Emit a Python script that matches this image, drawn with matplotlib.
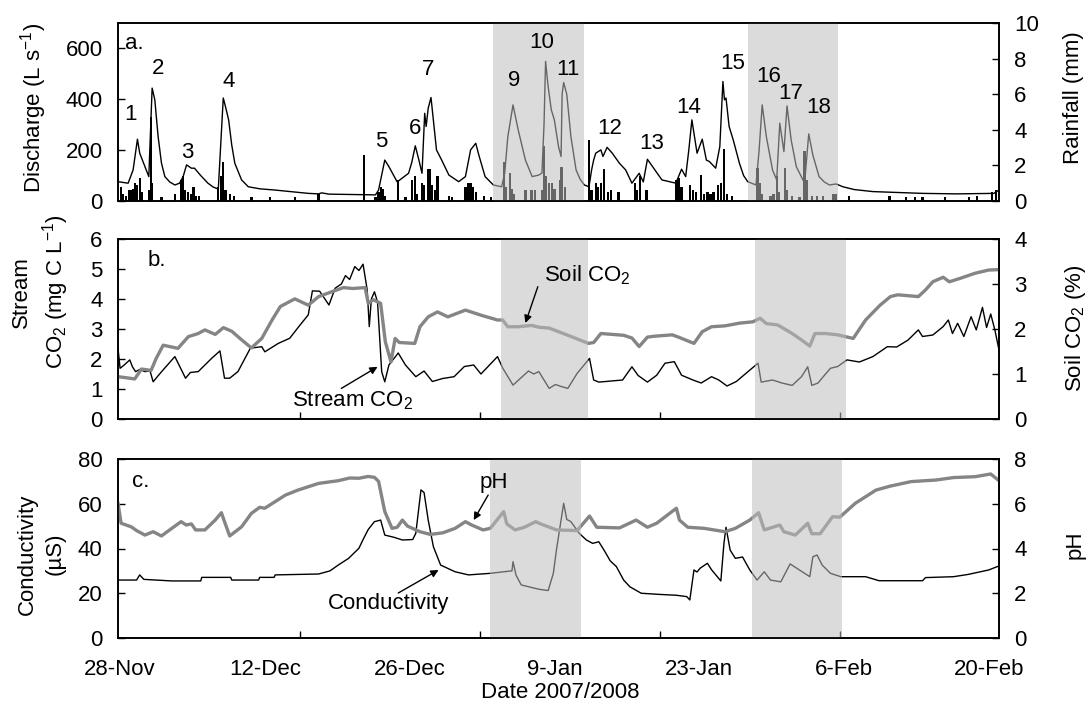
import numpy as np
import matplotlib
matplotlib.use('Agg')
import matplotlib.pyplot as plt

plt.rcParams['font.family'] = ['Liberation Sans', 'DejaVu Sans']
plt.rcParams['font.size'] = 16
plt.rcParams['mathtext.fontset'] = 'custom'
plt.rcParams['mathtext.rm'] = 'Liberation Sans'
plt.rcParams['mathtext.it'] = 'Liberation Sans:italic'

FS = 16

# days since 28-Nov-2007
date_ticks = [0, 14, 28, 42, 56, 70, 84]
date_labels = ['28-Nov', '12-Dec', '26-Dec', '9-Jan', '23-Jan', '6-Feb', '20-Feb']

# panel a: discharge (L/s)
q_day = [-0.2, 0.78, 1.26, 1.68, 1.9, 2.78, 3.1, 3.36, 3.68, 4.0, 4.33, 4.8, 5.3, 5.75, 6.1,
         6.43, 6.9, 7.2, 7.8, 8.5, 9.0, 9.5, 9.98, 10.2, 10.5, 10.8, 11.1, 11.75, 12.4, 13.5,
         15.0, 18.2, 19.2, 19.5, 20.2, 24.7, 25.0, 25.6, 26.0,
         26.8, 27.9, 28.2, 28.55, 28.9, 29.2, 29.46, 29.6, 29.8, 30.07, 30.3, 30.6, 31.1, 31.8,
         32.75, 33.4, 33.9, 34.4, 34.7, 35.3, 36.1, 36.9, 37.2, 37.5, 38.0, 38.5, 39.2, 39.85,
         40.5, 40.8, 41.0, 41.15, 41.4, 41.7, 42.0, 42.4, 42.65, 42.75, 42.9, 43.2, 43.6, 44.1,
         44.5, 44.9, 45.35, 45.6, 45.8, 46.0, 46.5, 46.7, 47.1, 47.6, 48.3, 48.9, 49.5, 50.2, 50.6,
         51.0, 51.5, 52.4, 53.75, 54.3, 54.7, 55.0, 55.3, 55.8, 56.3, 56.7, 57.0, 57.6, 58.0,
         58.3, 58.45, 58.6, 58.9, 59.3, 59.9, 60.3, 60.7, 61.5, 61.8, 62.1, 62.5, 63.1, 63.5, 63.8,
         64.2, 64.5, 64.9, 65.4, 66.2, 66.6, 67.0, 67.6, 68.1, 68.6, 69.25, 69.9, 71.0, 72.8,
         77.6, 80.9, 84.5, 85.0]
q_val = [76, 70, 122, 243, 188, 96, 444, 398, 253, 150, 96, 75, 63, 70, 96,
         142, 129, 129, 100, 70, 55, 47, 405, 370, 319, 220, 148, 83, 56, 48,
         43, 30, 28, 32, 27, 24, 43, 161, 135,
         75, 109, 150, 217, 161, 109, 345, 293, 365, 407, 319, 201, 161, 102,
         76, 96, 201, 227, 180, 96, 63, 56, 110, 253, 378, 280, 161, 96,
         102, 110, 300, 549, 450, 359, 319, 214, 175, 420, 466, 420, 253, 122,
         85, 63, 56, 122, 161, 188, 201, 175, 211, 188, 148, 122, 70, 109, 75,
         164, 135, 83, 70, 125, 96, 200, 319, 188, 243, 161, 155, 129, 214,
         470, 398, 405, 293, 240, 148, 100, 76, 63, 200, 378, 253, 122, 83, 306,
         194, 374, 240, 135, 70, 264, 180, 96, 75, 63, 67, 56, 45, 37,
         30, 28, 30, 43]

# panel a: rainfall (mm)
rain_day = [0.1, 0.3, 0.55, 0.9, 1.1, 1.3, 1.45, 1.6, 1.95, 2.1, 2.8, 2.97, 3.1, 4.0,
            5.3, 5.94, 6.1, 6.3, 6.55, 6.9, 7.1, 7.3, 7.6, 9.5, 9.75, 9.98, 10.2, 10.6, 11.0,
            12.7, 14.5, 16.9, 19.2, 23.6, 24.7, 25.0, 25.2, 25.4, 25.6, 26.9, 27.6,
            28.2, 28.5, 28.7, 29.2, 29.4, 29.8, 30.0, 30.2, 30.5, 30.7, 31.8, 32.1,
            33.4, 33.7, 33.9, 34.1, 34.4, 35.2, 35.9, 37.1, 37.3, 37.7, 37.9, 38.1,
            39.2, 39.8, 40.1, 40.8, 41.0, 41.2, 41.5, 41.8, 42.0, 42.6, 42.7, 43.0,
            45.35, 45.6, 46.0, 46.2, 46.5, 46.8, 47.2, 47.5, 48.2, 49.8, 50.0, 50.3, 50.9,
            53.75, 54.0, 54.3, 55.1, 55.4, 55.7, 56.2, 56.5, 56.8, 57.1, 57.4, 57.8, 58.1,
            58.4, 58.7, 59.2, 61.65, 61.9, 62.1, 62.9, 63.2, 63.5, 63.7, 64.3, 64.5, 65.0,
            65.7, 66.2, 66.4, 66.9, 67.4, 68.0, 69.0, 69.2, 70.5, 74.4, 76.0, 76.9, 77.6,
            79.8, 82.1, 82.9, 84.3, 84.7]
rain_mm = [0.8, 0.4, 0.3, 0.6, 0.6, 0.7, 1.0, 0.9, 1.3, 0.5, 0.6, 4.7, 1.0, 0.2,
           0.4, 1.2, 1.4, 0.6, 0.5, 0.4, 0.8, 0.3, 0.3, 0.8, 1.4, 2.2, 0.6, 0.4, 0.3,
           0.25, 0.25, 0.2, 0.4, 2.6, 0.2, 0.5, 0.8, 0.7, 0.3, 1.2, 0.2,
           1.2, 1.4, 0.4, 1.0, 0.9, 1.8, 1.8, 0.9, 0.6, 1.4, 0.3, 0.2,
           0.8, 1.0, 1.0, 0.8, 0.5, 0.3, 0.2, 2.2, 0.8, 1.6, 0.7, 0.4,
           0.6, 0.6, 0.6, 0.6, 3.1, 1.4, 1.0, 1.0, 0.7, 1.2, 1.9, 0.8,
           3.4, 0.6, 1.0, 0.8, 1.0, 1.8, 0.5, 0.6, 0.5, 1.0, 0.6, 1.4, 0.6,
           1.2, 1.3, 0.8, 0.9, 0.6, 0.5, 1.46, 0.4, 0.5, 0.4, 0.5, 0.9, 1.0,
           2.9, 0.4, 0.3, 1.84, 1.0, 0.4, 0.3, 0.4, 1.4, 0.5, 1.84, 0.6, 0.3,
           0.2, 2.8, 1.2, 0.3, 0.3, 0.3, 0.4, 0.4, 0.3, 0.3, 0.25, 0.25, 0.25,
           0.25, 0.25, 0.3, 0.5, 0.6]

# panel b: stream CO2 (mg C/L) and soil CO2 (%)
sco2_day = [-0.2, 0.0, 0.4, 0.94, 1.2, 1.5, 1.9, 2.4, 2.9, 3.2, 3.7, 4.3, 5.3, 5.7, 6.33, 6.8,
            7.56, 8.85, 9.66, 10.1, 10.6, 11.4, 12.6, 13.7, 14.0, 15.3, 16.4, 17.4, 18.2, 18.6,
            19.3, 20.2, 20.8, 21.4, 21.8, 22.2, 22.7, 23.1, 23.5, 23.9, 24.1, 24.3, 24.6, 24.9,
            25.3, 25.6, 26.0, 26.9, 27.6, 28.6, 29.4, 30.2, 31.2, 32.3, 33.3, 34.2, 34.9, 36.5,
            37.0, 38.0, 39.5, 40.0, 40.5, 41.5, 42.1, 42.7, 43.3, 44.2, 45.4, 45.8, 46.3, 48.6,
            49.5, 50.1, 51.0, 51.9, 52.7, 53.6, 54.3, 55.4, 56.2, 57.2, 57.9, 58.7, 59.6, 60.9,
            61.7, 62.0, 63.1, 64.0, 65.0, 65.9, 66.5, 66.9, 67.5, 68.1, 68.7, 69.4, 70.3, 71.5,
            72.8, 74.2, 75.1, 76.2, 77.2, 77.6, 78.6, 79.6, 80.1, 80.5, 81.0, 81.6, 82.3, 82.8,
            83.4, 83.8, 84.2, 84.6, 85.0]
sco2_val = [2.36, 1.69, 1.8, 1.97, 1.74, 1.58, 1.65, 1.58, 1.6, 1.24, 1.45, 1.69, 2.08, 1.8, 1.36, 1.55,
            1.58, 2.02, 2.27, 1.36, 1.36, 1.58, 2.36, 2.41, 2.24, 2.52, 2.69, 3.13, 3.47, 4.27,
            4.26, 3.8, 4.36, 4.5, 4.78, 4.65, 5.08, 4.95, 5.16, 4.3, 3.08, 4.0, 4.24, 3.9,
            1.58, 1.24, 1.8, 2.2, 1.8, 1.41, 1.6, 1.25, 1.35, 1.41, 1.75, 1.8, 1.5, 2.08,
            1.7, 1.13, 1.6, 1.5, 1.58, 1.02, 1.15, 1.08, 1.02, 1.52, 2.02, 1.3, 1.23, 1.3,
            1.74, 1.45, 1.23, 1.46, 1.86, 1.91, 1.46, 1.3, 1.2, 1.41, 1.3, 1.1, 1.25, 1.63,
            1.86, 1.23, 1.3, 1.2, 1.12, 1.41, 1.74, 1.12, 1.2, 1.45, 1.69, 1.75, 1.97, 1.9,
            2.08, 2.41, 2.4, 2.63, 2.97, 2.75, 2.8, 3.08, 3.3, 2.85, 3.19, 2.75, 3.41, 2.97,
            3.72, 3.05, 3.5, 2.97, 2.3]

soil_day = [-0.2, 0.5, 1.42, 2.07, 3.0, 3.5, 4.17, 5.6, 6.6, 7.56, 8.2, 9.2, 10.0, 10.8, 11.75,
            12.7, 13.7, 14.7, 15.5, 16.9, 18.2, 19.2, 20.5, 21.6, 22.5, 23.7, 24.0, 24.5, 25.2,
            25.65, 26.2, 26.6, 27.0, 28.5, 29.0, 29.8, 30.7, 31.7, 33.4, 35.0, 36.5, 37.0, 37.5,
            38.5, 39.8, 40.5, 41.5, 43.2, 45.3, 45.8, 46.5, 48.7, 49.5, 50.2, 51.0, 51.7, 53.4,
            54.0, 55.5, 56.3, 57.2, 58.5, 59.9, 61.2, 61.9, 62.5, 63.6, 65.0, 66.0, 66.7, 67.2,
            68.2, 69.4, 70.9, 72.1, 73.5, 74.5, 75.2, 77.2, 77.9, 78.6, 79.6, 80.2, 81.3, 82.7,
            84.0, 85.0]
soil_val = [0.94, 0.92, 0.89, 1.11, 1.08, 1.35, 1.64, 1.57, 1.83, 1.9, 1.98, 1.88, 2.03, 1.95, 1.76,
            1.58, 1.79, 2.2, 2.5, 2.67, 2.53, 2.72, 2.83, 2.92, 2.9, 2.92, 2.57, 2.65, 2.57,
            1.72, 1.27, 1.79, 1.7, 1.68, 2.05, 2.27, 2.38, 2.27, 2.42, 2.3, 2.2, 2.2, 2.05,
            2.05, 2.08, 2.04, 2.02, 1.87, 1.68, 1.7, 1.9, 1.86, 1.8, 1.61, 1.82, 1.84, 1.87,
            1.82, 1.68, 1.94, 2.05, 2.07, 2.13, 2.16, 2.24, 2.12, 2.09, 1.9, 1.74, 1.62, 1.9,
            1.9, 1.87, 1.79, 2.2, 2.53, 2.72, 2.76, 2.72, 2.87, 3.05, 3.15, 3.05, 3.13, 3.24,
            3.31, 3.32]

# panel c: conductivity (uS) and pH
cond_day = [-0.2, 1.6, 1.9, 2.3, 5.0, 7.8, 7.9, 10.7, 10.8, 13.4, 13.5, 14.9, 15.0, 19.2, 20.3,
            21.1, 22.1, 23.1, 23.5, 24.0, 24.6, 25.2, 25.6, 26.5, 27.3, 28.3, 28.6, 29.1, 29.4,
            29.8, 30.3, 31.0, 32.4, 33.7, 35.8, 37.1, 37.9, 38.0, 38.3, 38.8, 40.5, 41.4, 41.9,
            42.2, 42.5, 42.9, 43.2, 43.6, 44.4, 45.1, 45.7, 46.3, 46.8, 47.4, 48.0, 48.7, 49.3,
            50.4, 52.1, 53.8, 54.8, 55.1, 55.5, 55.8, 56.1, 56.8, 57.2, 58.1, 58.4, 58.6, 59.0,
            59.5, 60.2, 60.9, 61.6, 62.3, 62.9, 63.9, 64.8, 65.5, 66.7, 67.0, 67.4, 67.9, 68.7,
            69.7, 72.1, 73.4, 77.6, 77.9, 80.6, 82.0, 84.0, 85.0]
cond_val = [25.9, 25.9, 28.2, 26.2, 25.5, 25.5, 27.1, 27.1, 25.9, 25.9, 27.1, 27.1, 28.2, 28.6, 30.0,
            32.6, 35.6, 40.1, 44, 48.5, 52, 52.7, 46, 45, 43.8, 44, 46.8, 66.2, 65,
            52.7, 40.8, 32.6, 29.6, 28.2, 28.9, 29.6, 30, 34.1, 28, 23.7, 21.8, 21.2, 28.9,
            39.3, 48.3, 60.2, 53, 52, 46.8, 43.8, 42.3, 43, 39.3, 34.5, 31.9, 25.9, 22.9,
            20, 19.5, 19.1, 18.5, 17, 30.4, 29.5, 31.2, 33.4, 30.5, 25.5, 42.3, 49.5, 39.3,
            35.6, 36.2, 30.4, 25.9, 29.6, 25.9, 25.1, 33.1, 31, 27.4, 36.3, 37.1, 32.6, 28.9,
            27.4, 27.4, 25.6, 25.6, 27, 27.4, 28.4, 30.4, 32.2]

ph_day = [-0.2, 0.1, 1.07, 1.6, 2.4, 3.2, 4.0, 5.0, 5.9, 6.4, 6.9, 7.3, 8.2, 9.2, 9.8, 10.1,
          10.6, 11.75, 12.7, 13.5, 14.0, 16.0, 17.2, 19.2, 21.1, 22.2, 23.1, 24.0, 24.6, 25.0,
          25.6, 26.3, 26.8, 27.3, 27.8, 29.0, 30.0, 31.2, 32.4, 33.4, 34.0, 35.1, 35.8, 37.1,
          37.4, 38.2, 39.1, 40.2, 40.5, 42.2, 44.2, 45.4, 46.1, 48.3, 49.9, 51.0, 51.9, 53.8,
          54.1, 54.9, 56.5, 58.5, 59.5, 60.9, 61.75, 62.3, 63.8, 64.2, 65.3, 66.5, 66.9, 67.7,
          68.9, 69.6, 71.1, 73.1, 74.5, 76.5, 78.9, 80.6, 82.7, 84.2, 85.0]
ph_val = [6.02, 5.13, 4.97, 4.8, 4.6, 4.75, 4.56, 4.9, 5.2, 5.05, 5.1, 4.83, 4.83, 5.27, 5.6, 5.2,
          4.56, 4.97, 5.57, 5.84, 5.8, 6.39, 6.61, 6.91, 7.03, 7.15, 7.14, 7.22, 7.18, 7.0,
          5.65, 4.9, 4.95, 5.27, 5.0, 4.75, 4.63, 4.7, 4.9, 5.2, 5.05, 4.83, 4.9, 5.65,
          5.1, 4.83, 4.95, 5.2, 5.13, 4.83, 4.8, 5.45, 4.95, 4.92, 5.27, 4.95, 5.13, 5.8,
          5.27, 4.95, 4.9, 4.75, 4.9, 5.27, 5.6, 4.83, 5.05, 4.75, 4.6, 5.13, 4.66, 4.66,
          5.42, 5.4, 6.02, 6.61, 6.79, 6.99, 7.06, 7.17, 7.21, 7.33, 7.03]

# storm events and shaded periods
peak_labels = ['1', '2', '3', '4', '5', '6', '7', '9', '10', '11', '12', '13', '14', '15',
               '16', '17', '18']
peak_day = [1.04, 3.68, 6.5, 10.5, 25.3, 28.5, 29.8, 38.1, 40.8, 43.3, 47.35, 51.4, 55.0,
            59.2, 62.7, 64.9, 67.6]
peak_q = [342, 523, 190, 470, 234, 286, 519, 473, 624, 519, 286, 227, 369, 542, 490, 424, 369]
shade_a = [(36.1, 44.9), (60.7, 69.4)]
shade_b = [(36.8, 45.3), (61.4, 70.2)]
shade_c = [(35.8, 44.6), (61.1, 69.8)]

W, H = 1088, 710
fig = plt.figure(figsize=(W / 100, H / 100), dpi=100)
left, right = 118, 999


def make_axes(top, bottom):
    return fig.add_axes([left / W, 1 - bottom / H, (right - left) / W, (bottom - top) / H])


gray = '#858585'
shade_col = (0.745, 0.745, 0.745)


def style(ax, ax2, shades, xlabels=False):
    ax.set_xlim(-0.2, 85.0)
    for a in (ax, ax2):
        a.tick_params(axis='y', direction='in', length=5, width=1, pad=11, labelsize=FS)
        for s in a.spines.values():
            s.set_linewidth(1.2)
            s.set_zorder(20)
    for x0, x1 in shades:
        ax2.axvspan(x0, x1, color=shade_col, alpha=0.54, lw=0, zorder=5)
    ax.set_xticks(date_ticks)
    if xlabels:
        ax.set_xticklabels(date_labels)
    else:
        ax.set_xticklabels([])
    ax.tick_params(axis='x', which='major', length=0, pad=15, labelsize=FS)
    ax.set_xticks(np.arange(1, 5) * 17.4, minor=True)
    ax.tick_params(axis='x', which='minor', direction='in', length=5, width=1)


# ---- panel a
ax = make_axes(23, 201)
ax2 = ax.twinx()
ax.plot(q_day, q_val, color='black', lw=1.0)
ax2.bar(rain_day, rain_mm, width=0.22, color='black', lw=0)
ax.set_ylim(0, 700)
ax.set_yticks([0, 200, 400, 600])
ax2.set_ylim(0, 10)
ax2.set_yticks(range(0, 11, 2))
style(ax, ax2, shade_a)
ax.tick_params(axis='x', which='minor', length=0)
for lab, d, q in zip(peak_labels, peak_day, peak_q):
    ax2.text(d, q, lab, transform=ax.transData, ha='center', va='center', fontsize=FS, zorder=10)
ax2.text(0.008, 0.883, 'a.', transform=ax.transAxes, ha='left', va='center', fontsize=FS, zorder=10)

# ---- panel b
bx = make_axes(239, 419)
bx2 = bx.twinx()
bx.plot(sco2_day, sco2_val, color='black', lw=1.0)
bx2.plot(soil_day, soil_val, color=gray, lw=2.4)
bx.set_ylim(0, 6)
bx.set_yticks(range(0, 7))
bx2.set_ylim(0, 4)
bx2.set_yticks(range(0, 5))
style(bx, bx2, shade_b)
bx2.text(0.034, 0.883, 'b.', transform=bx.transAxes, ha='left', va='center', fontsize=FS, zorder=10)
arrow = dict(arrowstyle='-|>', color='black', lw=1.0, mutation_scale=11, shrinkA=0, shrinkB=0)
bx2.annotate('', xy=(39.2, 3.2), xytext=(40.4, 4.41), xycoords=bx.transData,
             textcoords=bx.transData, arrowprops=arrow, zorder=10)
bx2.text(41.0, 4.8, 'Soil CO$_2$', transform=bx.transData, ha='left', va='center', fontsize=FS, zorder=10)
bx2.annotate('', xy=(24.9, 1.74), xytext=(21.4, 1.02), xycoords=bx.transData,
             textcoords=bx.transData, arrowprops=arrow, zorder=10)
bx2.text(22.5, 0.6, 'Stream CO$_2$', transform=bx.transData, ha='center', va='center', fontsize=FS, zorder=10)

# ---- panel c
cx = make_axes(459, 638)
cx2 = cx.twinx()
cx.plot(cond_day, cond_val, color='black', lw=1.0)
cx2.plot(ph_day, ph_val, color=gray, lw=2.4)
cx.set_ylim(0, 80)
cx.set_yticks(range(0, 81, 20))
cx2.set_ylim(0, 8)
cx2.set_yticks(range(0, 9, 2))
style(cx, cx2, shade_c, xlabels=True)
cx2.text(0.016, 0.877, 'c.', transform=cx.transAxes, ha='left', va='center', fontsize=FS, zorder=10)
cx2.annotate('', xy=(34.2, 52.7), xytext=(35.6, 63.9), xycoords=cx.transData,
             textcoords=cx.transData, arrowprops=arrow, zorder=10)
cx2.text(36.1, 69.7, 'pH', transform=cx.transData, ha='center', va='center', fontsize=FS, zorder=10)
cx2.annotate('', xy=(30.8, 30.4), xytext=(26.9, 20.1), xycoords=cx.transData,
             textcoords=cx.transData, arrowprops=arrow, zorder=10)
cx2.text(26.0, 15.2, 'Conductivity', transform=cx.transData, ha='center', va='center', fontsize=FS, zorder=10)


# axis titles
def ftext(x, y, s, **kw):
    fig.text(x / W, 1 - y / H, s, ha='center', va='center', fontsize=FS, **kw)


ftext(34, 108, 'Discharge (L s$^{-1}$)', rotation=90)
ftext(1074, 98, 'Rainfall (mm)', rotation=90)
ftext(41, 292, 'Stream\nCO$_2$ (mg C L$^{-1}$)', rotation=90, linespacing=1.4, multialignment='center')
ftext(1076, 328, 'Soil CO$_2$ (%)', rotation=90)
ftext(41, 554, 'Conductivity\n(µS)', rotation=90, linespacing=1.4, multialignment='center')
ftext(1075, 545, 'pH', rotation=90)
ftext(560, 692, 'Date 2007/2008')

fig.savefig('out.png', dpi=100)
